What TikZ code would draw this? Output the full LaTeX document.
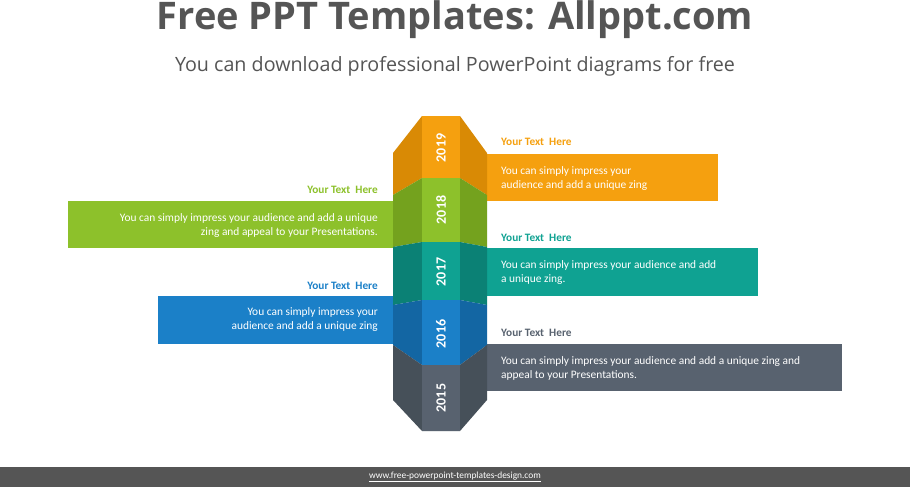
\documentclass[tikz,border=0pt]{standalone}
\usepackage{fontspec}
\setmainfont{Carlito}
\newfontfamily\titlefont{Open Sans}
\begin{document}
\begin{tikzpicture}[x=1pt,y=-1pt,
  body/.style={text=white,font=\fontsize{11.4}{14}\selectfont,inner sep=0pt,align=left},
  bodyr/.style={body,align=right},
  head/.style={font=\bfseries\fontsize{11.3}{12}\selectfont,inner sep=0pt},
  year/.style={text=white,font=\bfseries\fontsize{14}{15}\selectfont,rotate=90,inner sep=0pt}]
\definecolor{cor}{HTML}{F5A00F}\definecolor{corD}{HTML}{D98A05}
\definecolor{cgr}{HTML}{8DC12B}\definecolor{cgrD}{HTML}{74A21E}
\definecolor{cte}{HTML}{0FA292}\definecolor{cteD}{HTML}{0B8175}
\definecolor{cbl}{HTML}{1B80C8}\definecolor{cblD}{HTML}{1366A3}
\definecolor{cgy}{HTML}{58626F}\definecolor{cgyD}{HTML}{465059}
\definecolor{tgray}{HTML}{555555}
\fill[white] (0,0) rectangle (910,487);
% bars
\fill[cor] (485,154) rectangle (718,201);
\fill[cgr] (68,201) rectangle (395,248);
\fill[cte] (485,248) rectangle (758,296);
\fill[cbl] (158,296) rectangle (395,344);
\fill[cgy] (485,344) rectangle (842,391);
% column segments
\def\seg#1#2#3#4#5#6{%
 \fill[#5] (393,#2)--(422,#1)--(460,#1)--(487,#2)--(487,#4)--(460,#3)--(422,#3)--(393,#4)--cycle;
 \fill[#6] (422,#1)--(460,#1)--(460,#3)--(422,#3)--cycle;}
\seg{116}{153}{178}{195}{corD}{cor}
\seg{178}{195}{242}{247}{cgrD}{cgr}
\seg{242}{247}{300}{305}{cteD}{cte}
\seg{300}{305}{365}{345}{cblD}{cbl}
\seg{365}{345}{431}{400}{cgyD}{cgy}
\node[year] (y19) at (441,148) {2019};
\node[year] (y18) at (441,210) {2018};
\node[year] (y17) at (441,272) {2017};
\node[year] (y16) at (441,334) {2016};
\node[year] (y15) at (441,398) {2015};
% headings
\node[head,text=cor,anchor=west] (h19) at (501,142) {Your Text\ \ Here};
\node[head,text=cgr,anchor=east] (h18) at (378,190) {Your Text\ \ Here};
\node[head,text=cte,anchor=west] (h17) at (501,238) {Your Text\ \ Here};
\node[head,text=cbl,anchor=east] (h16) at (378,286) {Your Text\ \ Here};
\node[head,text=cgy,anchor=west] (h15) at (501,333) {Your Text\ \ Here};
% body texts
\node[body,anchor=west] (t19) at (501,179) {You can simply impress your\\audience and add a unique zing};
\node[bodyr,anchor=east] (t18) at (378,226) {You can simply impress your audience and add a unique\\zing and appeal to your Presentations.};
\node[body,anchor=west] (t17) at (501,273) {You can simply impress your audience and add\\a unique zing.};
\node[bodyr,anchor=east] (t16) at (378,320) {You can simply impress your\\audience and add a unique zing};
\node[body,anchor=west] (t15) at (501,368) {You can simply impress your audience and add a unique zing and\\appeal to your Presentations.};
% title
\node[text=tgray,font=\titlefont\bfseries\fontsize{38}{42}\selectfont,inner sep=0pt] (title) at (455,20) {Free PPT Templates: Allppt.com};
\node[text=tgray,font=\titlefont\fontsize{19.7}{22}\selectfont,inner sep=0pt] (sub) at (455,66) {You can download professional PowerPoint diagrams for free};
% footer
\fill[tgray] (0,467) rectangle (910,487);
\node[text=white,font=\fontsize{9.4}{10}\selectfont,inner sep=0pt] (foot) at (455,477) {\underline{www.free-powerpoint-templates-design.com}};
\end{tikzpicture}
\end{document}
